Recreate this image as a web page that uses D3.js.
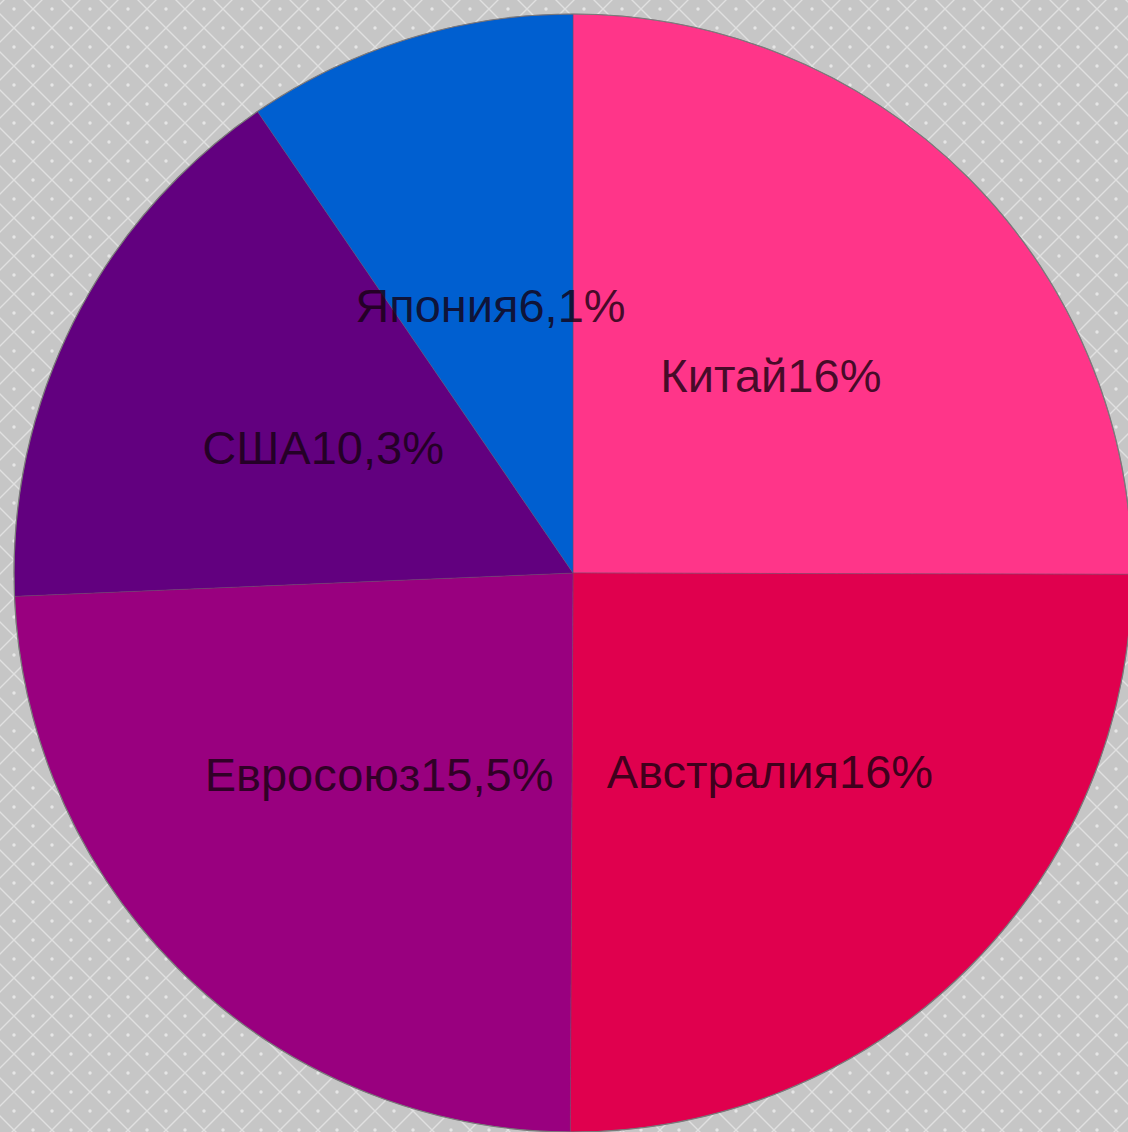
<!DOCTYPE html>
<html lang="ru">
<head>
<meta charset="utf-8">
<script src="https://cdn.jsdelivr.net/npm/d3@7"></script>
<style>
  html, body { margin: 0; padding: 0; background: #c6c6c6; }
  svg { display: block; }
</style>
</head>
<body>
<svg id="chart" width="1128" height="1132"></svg>
<script>
// Regions and their shares (percent)
const regions = ["Китай", "Австралия", "Евросоюз", "США", "Япония"];
const shares = [16, 16, 15.5, 10.3, 6.1];
const colors = ["#ff3589", "#e0004e", "#99007f", "#62007f", "#005fd0"];

const width = 1128, height = 1132;
const cx = 573, cy = 573, radius = 559;

const svg = d3.select("#chart");

// Diagonal lattice backdrop with a dot in each diamond
const defs = svg.append("defs");
const pat = defs.append("pattern")
  .attr("id", "lattice")
  .attr("patternUnits", "userSpaceOnUse")
  .attr("width", 38).attr("height", 38)
  .attr("patternTransform", "translate(14,28)");
pat.append("rect").attr("width", 38).attr("height", 38).attr("fill", "#c6c6c6");
pat.append("path")
  .attr("d", "M0,0L38,38M38,0L0,38")
  .attr("stroke", "#e0e0e0").attr("stroke-width", 1.4).attr("fill", "none");
[[19, 0], [0, 19], [38, 19], [19, 38]].forEach(([x, y]) => {
  pat.append("circle").attr("cx", x).attr("cy", y).attr("r", 1.7).attr("fill", "#e6e6e6");
});
svg.append("rect").attr("width", width).attr("height", height).attr("fill", "url(#lattice)");

const data = regions.map((name, i) => ({ name, value: shares[i], color: colors[i] }));

const pie = d3.pie().value(d => d.value).sort(null);
const arc = d3.arc().innerRadius(0).outerRadius(radius);
const labelArc = d3.arc().innerRadius(radius * 0.5).outerRadius(radius * 0.5);

const g = svg.append("g").attr("transform", `translate(${cx},${cy})`);
const arcs = pie(data);

g.selectAll("path.slice")
  .data(arcs)
  .join("path")
  .attr("class", "slice")
  .attr("d", arc)
  .attr("fill", d => d.data.color)
  .attr("stroke", "#6d4a66")
  .attr("stroke-opacity", 0.45)
  .attr("stroke-width", 1);

// Outer rim
g.append("circle")
  .attr("r", radius)
  .attr("fill", "none")
  .attr("stroke", "#7a7a7a")
  .attr("stroke-width", 1.2);

const fmt = v => String(v).replace(".", ",") + "%";

g.selectAll("text.label")
  .data(arcs)
  .join("text")
  .attr("class", "label")
  .attr("transform", d => `translate(${labelArc.centroid(d)})`)
  .attr("text-anchor", "middle")
  .attr("dy", "0.35em")
  .attr("font-family", "'Liberation Sans', Arial, sans-serif")
  .attr("font-size", 47)
  .attr("fill", "#14000f")
  .attr("fill-opacity", 0.8)
  .text(d => d.data.name + fmt(d.data.value));
</script>
</body>
</html>
